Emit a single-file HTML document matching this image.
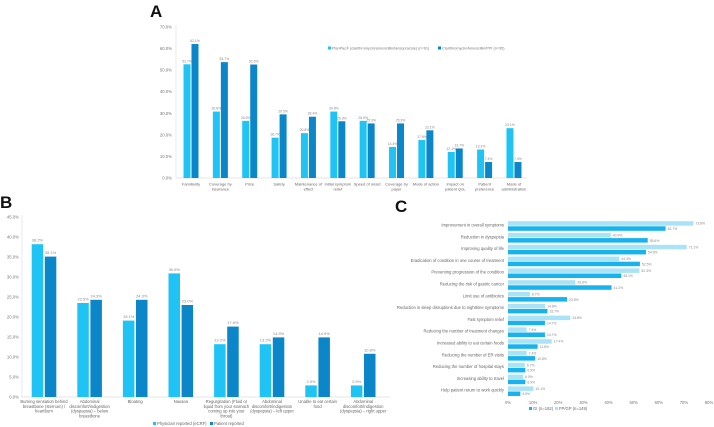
<!DOCTYPE html>
<html><head><meta charset="utf-8"><style>
html,body{margin:0;padding:0;background:#fff;}
svg{display:block;font-family:"Liberation Sans",sans-serif;}
</style></head><body>
<svg id="fig" width="714" height="427" viewBox="0 0 714 427">
<text x="150" y="17" font-size="17" font-weight="bold" fill="#111">A</text>
<text x="0" y="208" font-size="17" font-weight="bold" fill="#111">B</text>
<text x="395" y="212" font-size="17" font-weight="bold" fill="#111">C</text>
<g id="chartA"></g>
<g id="chartB"></g>
<g id="chartC"></g>
</svg>
<script>
const NS="http://www.w3.org/2000/svg";
const LIGHT="#20c4f4", DARK="#0a86c9", CL="#a9e3f7", CD="#18b2ec";
function mk(p,t,a){const e=document.createElementNS(NS,t);for(const k in a)e.setAttribute(k,a[k]);p.appendChild(e);return e;}

// ---- Chart A data ----
const catsA=[["Familiarity"],["Coverage by","insurance"],["Price"],["Safety"],["Maintenance of","effect"],["Initial symptom","relief"],["Speed of onset"],["Coverage by","payer"],["Mode of action"],["Impact on","patient QoL"],["Patient","preference"],["Mode of","administration"]];
const aLight=[52.7,30.8,26.5,18.7,20.8,30.8,26.5,14.4,17.6,12.1,13.2,23.1];
const aDark=[62.1,53.7,52.6,29.5,28.4,26.3,25.3,25.3,22.1,13.7,7.4,7.4];
const aTicks=[0,10,20,30,40,50,60,70];

// ---- Chart B data ----
const catsB=[["Burning sensation behind","breastbone (sternum) /","heartburn"],["Abdominal","discomfort/indigestion","(dyspepsia) – below","breastbone"],["Bloating"],["Nausea"],["Regurgitation (Fluid or","liquid from your stomach","coming up into your","throat)"],["Abdominal","discomfort/indigestion","(dyspepsia) – left upper"],["Unable to eat certain","food"],["Abdominal","discomfort/indigestion","(dyspepsia) – right upper"]];
const bLight=[38.2,23.5,19.1,30.9,13.2,13.2,2.9,2.9];
const bDark=[35.1,24.3,24.3,23.0,17.6,14.9,14.9,10.8];
const bTicks=[0,5,10,15,20,25,30,35,40,45];

// ---- Chart C data ----
const catsC=["Improvement in overall symptoms","Reduction in dyspepsia","Improving quality of life","Eradication of condition in one course of treatment","Preventing progression of the condition","Reducing the risk of gastric cancer","Limit use of antibiotics","Reduction in sleep disruptions due to nighttime symptoms","Fast symptom relief","Reducing the number of treatment changes","Increased ability to eat certain foods","Reducing the number of ER visits","Reducing the number of hospital stays","Increasing ability to travel","Help patient return to work quickly"];
const cGI=[62.7,55.6,54.9,52.5,45.1,41.2,23.5,15.7,14.7,14.7,11.8,10.8,6.9,6.9,4.9];
const cFP=[73.8,40.9,71.1,44.3,52.3,26.8,8.7,14.8,24.8,7.4,17.4,7.4,6.7,6.0,10.1];
const cTicks=[0,10,20,30,40,50,60,70,80];

// ---- Chart A ----
(function(){
 const g=document.getElementById('chartA');
 const y=v=>178-v*151/70, x=i=>191+i*29.36, bw=7;
 aTicks.forEach(t=>{const e=mk(g,'text',{x:172,y:y(t)+1.5,'font-size':4.3,fill:'#777','text-anchor':'end'});e.textContent=t.toFixed(1)+'%';
  
  });
 mk(g,'line',{x1:176,y1:25,x2:176,y2:178,stroke:'#ddd','stroke-width':0.6});
 mk(g,'line',{x1:176,y1:178,x2:527,y2:178,stroke:'#ccc','stroke-width':0.6});
 catsA.forEach((c,i)=>{
  const r1=mk(g,'rect',{x:x(i)-bw-0.5,y:y(aLight[i]),width:bw,height:178-y(aLight[i]),fill:LIGHT});
  
  
  const r2=mk(g,'rect',{x:x(i)+0.5,y:y(aDark[i]),width:bw,height:178-y(aDark[i]),fill:DARK});
  
  
  const l1=mk(g,'text',{x:x(i)-bw/2-0.5,y:y(aLight[i])-2,'font-size':3.4,fill:'#888','text-anchor':'middle'});l1.textContent=aLight[i].toFixed(1)+'%';
  
  
  const l2=mk(g,'text',{x:x(i)+bw/2+0.5,y:y(aDark[i])-2,'font-size':3.4,fill:'#888','text-anchor':'middle'});l2.textContent=aDark[i].toFixed(1)+'%';
  
  
  c.forEach((s,j)=>{const t=mk(g,'text',{x:x(i),y:185.5+j*4.8,'font-size':4,fill:'#666','text-anchor':'middle'});t.textContent=s;
   
   });
 });
 mk(g,'rect',{x:328,y:46.5,width:3,height:3,fill:LIGHT});
 let t=mk(g,'text',{x:332,y:49.5,'font-size':3.8,fill:'#777'});t.textContent='PlanPac® (clarithromycin/amoxicillin/lansoprazole) (n=91)';
 
 
 mk(g,'rect',{x:438,y:46.5,width:3,height:3,fill:DARK});
 t=mk(g,'text',{x:442,y:49.5,'font-size':3.8,fill:'#777'});t.textContent='Clarithromycin/Amoxicillin/PPI (n=95)';
 
 
})();

// ---- Chart B ----
(function(){
 const g=document.getElementById('chartB');
 const y=v=>397-v*4, x=i=>44+i*45.6, bw=11.5;
 bTicks.forEach(t=>{const e=mk(g,'text',{x:19,y:y(t)+1.5,'font-size':4.3,fill:'#777','text-anchor':'end'});e.textContent=t.toFixed(1)+'%';
  
  });
 mk(g,'line',{x1:22,y1:215,x2:22,y2:397,stroke:'#ddd','stroke-width':0.6});
 mk(g,'line',{x1:22,y1:397,x2:390,y2:397,stroke:'#ccc','stroke-width':0.6});
 catsB.forEach((c,i)=>{
  const r1=mk(g,'rect',{x:x(i)-bw-0.8,y:y(bLight[i]),width:bw,height:397-y(bLight[i]),fill:LIGHT});
  
  
  const r2=mk(g,'rect',{x:x(i)+0.8,y:y(bDark[i]),width:bw,height:397-y(bDark[i]),fill:DARK});
  
  
  const l1=mk(g,'text',{x:x(i)-bw/2-0.8,y:y(bLight[i])-2.5,'font-size':4,fill:'#888','text-anchor':'middle'});l1.textContent=bLight[i].toFixed(1)+'%';
  
  
  const l2=mk(g,'text',{x:x(i)+bw/2+0.8,y:y(bDark[i])-2.5,'font-size':4,fill:'#888','text-anchor':'middle'});l2.textContent=bDark[i].toFixed(1)+'%';
  
  
  c.forEach((s,j)=>{const t=mk(g,'text',{x:x(i),y:403+j*4.8,'font-size':4.2,fill:'#666','text-anchor':'middle'});t.textContent=s;
   
   });
 });
 mk(g,'rect',{x:153,y:422,width:3,height:3,fill:LIGHT});
 let t=mk(g,'text',{x:157,y:425,'font-size':4.2,fill:'#666'});t.textContent='Physician reported (eCRF)';
 
 
 mk(g,'rect',{x:210,y:422,width:3,height:3,fill:DARK});
 t=mk(g,'text',{x:214,y:425,'font-size':4.2,fill:'#666'});t.textContent='Patient reported';
 
 
})();

// ---- Chart C ----
(function(){
 const g=document.getElementById('chartC');
 const x=v=>508+v*2.513, yc=i=>226+i*11.8, bh=4.5;
 cTicks.forEach(t=>{const e=mk(g,'text',{x:x(t),y:404,'font-size':4.2,fill:'#777','text-anchor':'middle'});e.textContent=t+'%';
  
  });
 catsC.forEach((c,i)=>{
  const r1=mk(g,'rect',{x:508,y:yc(i)-bh-0.3,width:x(cFP[i])-508,height:bh,fill:CL});
  
  
  const r2=mk(g,'rect',{x:508,y:yc(i)+0.3,width:x(cGI[i])-508,height:bh,fill:CD});
  
  
  const l1=mk(g,'text',{x:x(cFP[i])+2,y:yc(i)-1.3,'font-size':3.4,fill:'#888'});l1.textContent=cFP[i].toFixed(1)+'%';
  
  
  const l2=mk(g,'text',{x:x(cGI[i])+2,y:yc(i)+4,'font-size':3.4,fill:'#888'});l2.textContent=cGI[i].toFixed(1)+'%';
  
  
  const t=mk(g,'text',{x:504,y:yc(i)+0.5,'font-size':4.2,fill:'#666','text-anchor':'end'});t.textContent=c;
  
  
 });
 mk(g,'rect',{x:529,y:407,width:3,height:3,fill:CD});
 let t=mk(g,'text',{x:533,y:410,'font-size':4.2,fill:'#666'});t.textContent='GI (n=162)';
 
 
 mk(g,'rect',{x:555,y:407,width:3,height:3,fill:CL});
 t=mk(g,'text',{x:559,y:410,'font-size':4.2,fill:'#666'});t.textContent='FP/GP (n=149)';
 
 
})();
</script>
</body></html>
